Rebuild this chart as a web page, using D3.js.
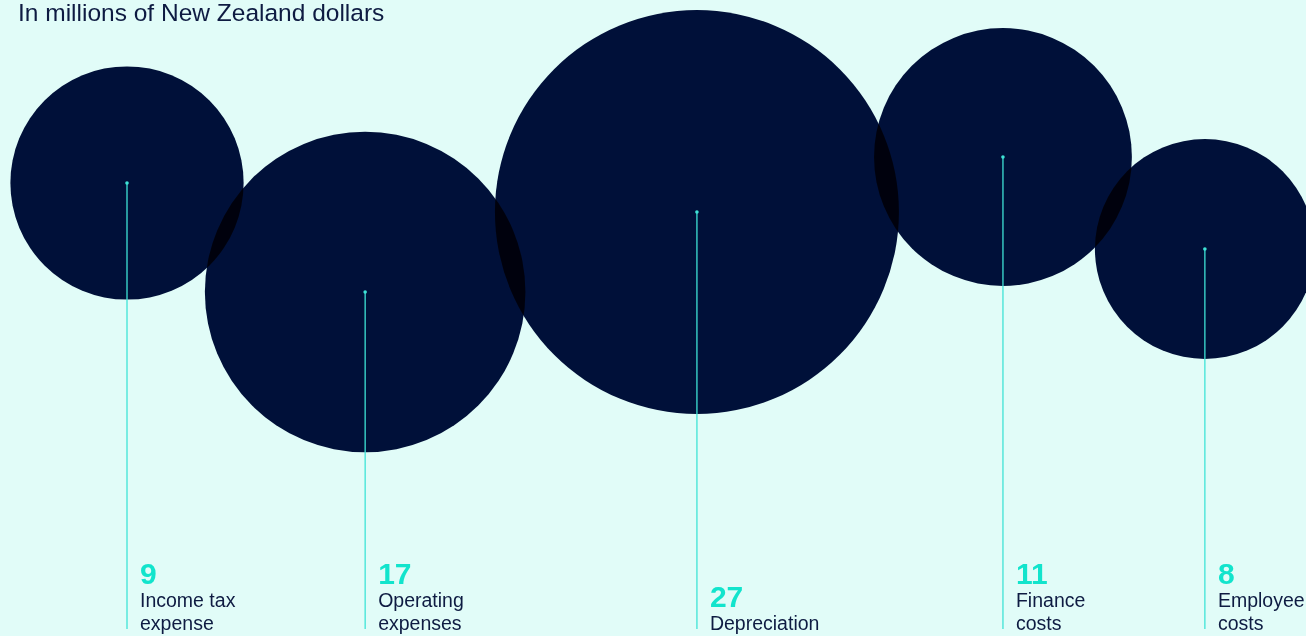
<!DOCTYPE html>
<html>
<head>
<meta charset="utf-8">
<script src="https://cdn.jsdelivr.net/npm/d3@7"></script>
<style>
  html, body { margin: 0; padding: 0; background: #e1fcf8; overflow: hidden; }
  svg { display: block; font-family: "Liberation Sans", Arial, Helvetica, sans-serif; }
</style>
</head>
<body>
<div class="chart"></div>
<script>
// data
const categories = ["Income tax expense", "Operating expenses", "Depreciation", "Finance costs", "Employee costs"];
const labelLines = [["Income tax", "expense"], ["Operating", "expenses"], ["Depreciation"], ["Finance", "costs"], ["Employee", "costs"]];
const values = [9, 17, 27, 11, 8];
const title = "In millions of New Zealand dollars";

// layout: vertical position of each bubble centre, and how much each bubble overlaps the one before
const centreY = [183, 292, 212, 157, 249];
const overlaps = [15, 21, 20, 17];
const firstX = 127;

const width = 1306;
const height = 636;
const baseY = 630;

const svg = d3
  .select(".chart")
  .append("svg")
  .attr("width", width)
  .attr("height", height);

svg.append("rect").attr("width", width).attr("height", height).attr("fill", "#e1fcf8");

const r = d3.scaleSqrt().domain([0, d3.max(values)]).range([0, 202]);

// chain bubbles left to right so each just overlaps the previous one
const centreX = [firstX];
for (let i = 1; i < values.length; i++) {
  const dist = r(values[i - 1]) + r(values[i]) - overlaps[i - 1];
  const dy = centreY[i] - centreY[i - 1];
  centreX.push(centreX[i - 1] + Math.sqrt(dist * dist - dy * dy));
}

const nodes = values.map((v, i) => ({
  name: categories[i],
  lines: labelLines[i],
  value: v,
  x: centreX[i],
  y: centreY[i],
}));

svg
  .append("text")
  .attr("x", 18)
  .attr("y", 21)
  .attr("fill", "#0e1b42")
  .style("font-size", "24.5px")
  .text(title);

svg
  .append("g")
  .selectAll("circle")
  .data(nodes)
  .enter()
  .append("circle")
  .attr("cx", (d) => d.x)
  .attr("cy", (d) => d.y)
  .attr("r", (d) => r(d.value))
  .attr("fill", "#00103a")
  .style("mix-blend-mode", "multiply");

const lab = svg.append("g").selectAll("g").data(nodes).enter().append("g");

lab
  .append("line")
  .attr("x1", (d) => d.x)
  .attr("x2", (d) => d.x)
  .attr("y1", (d) => d.y)
  .attr("y2", baseY - 1)
  .attr("stroke", "#3ee3d6")
  .attr("stroke-width", 1.3);

lab
  .append("circle")
  .attr("cx", (d) => d.x)
  .attr("cy", (d) => d.y)
  .attr("r", 1.8)
  .attr("fill", "#3ee3d6");

lab
  .append("text")
  .attr("x", (d) => d.x + 13)
  .attr("y", (d) => baseY - 23 * d.lines.length)
  .attr("fill", "#12e4cc")
  .style("font-size", "30px")
  .style("font-weight", "bold")
  .text((d) => d.value);

lab.each(function (d) {
  const g = d3.select(this);
  d.lines.forEach((line, j) => {
    g.append("text")
      .attr("x", d.x + 13)
      .attr("y", baseY - 23 * (d.lines.length - 1 - j))
      .attr("fill", "#0e1b42")
      .style("font-size", "19.5px")
      .text(line);
  });
});
</script>
</body>
</html>
